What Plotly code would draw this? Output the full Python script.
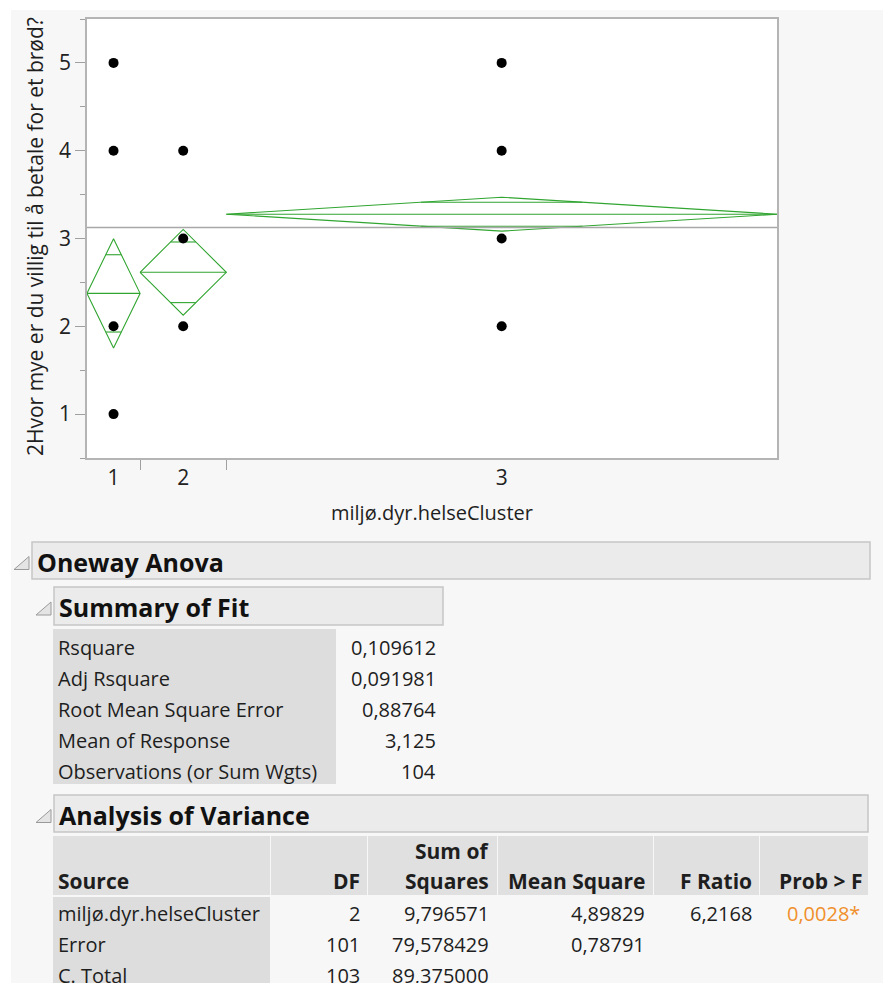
import math
import plotly.graph_objects as go

# ---- Oneway data: response by cluster ----
groups = ["1", "2", "3"]
group_n = [8, 13, 83]
group_means = [2.375, 2.615, 3.277]
group_values = [[1, 2, 4, 5], [2, 3, 4], [2, 3, 4, 5]]
grand_mean = 3.125
rmse = 0.88764
t_crit = 1.9837  # t(0.975, 101)

y_ticks = [1, 2, 3, 4, 5]
y_title = "2Hvor mye er du villig til å betale for et brød?"
x_title = "miljø.dyr.helseCluster"

# ---- Summary of Fit ----
fit_labels = ["Rsquare", "Adj Rsquare", "Root Mean Square Error",
              "Mean of Response", "Observations (or Sum Wgts)"]
fit_values = ["0,109612", "0,091981", "0,88764", "3,125", "104"]

# ---- Analysis of Variance ----
anova_source = ["miljø.dyr.helseCluster", "Error", "C. Total"]
anova_df = ["2", "101", "103"]
anova_ss = ["9,796571", "79,578429", "89,375000"]
anova_ms = ["4,89829", "0,78791", ""]
anova_f = ["6,2168", "", ""]
anova_p = ["0,0028*", "", ""]

W, H = 883, 983
PAGE_BG = "#f7f7f7"
GREEN = "rgb(48,165,48)"
FONT = "Open Sans"
TXT = "#1e1e1e"


def px(x):
    return x / W


def py(y):
    return 1 - y / H


fig = go.Figure()

# group extents on a count-proportional x scale
edges = [0]
for n in group_n:
    edges.append(edges[-1] + n)
centers = [(edges[i] + edges[i + 1]) / 2 for i in range(len(groups))]
total = edges[-1]

# means diamonds with overlap marks
for i in range(len(groups)):
    lo, hi, c = edges[i], edges[i + 1], centers[i]
    m = group_means[i]
    h = t_crit * rmse / math.sqrt(group_n[i])
    fig.add_trace(go.Scatter(
        x=[lo, c, hi, c, lo], y=[m, m + h, m, m - h, m],
        mode="lines", line=dict(color=GREEN, width=1.1),
        hoverinfo="skip", showlegend=False))
    fig.add_trace(go.Scatter(
        x=[lo, hi], y=[m, m], mode="lines",
        line=dict(color=GREEN, width=1.1), hoverinfo="skip", showlegend=False))
    half_w = (hi - lo) / 2 * (1 - 1 / math.sqrt(2))
    for s in (1, -1):
        yo = m + s * h / math.sqrt(2)
        fig.add_trace(go.Scatter(
            x=[c - half_w, c + half_w], y=[yo, yo], mode="lines",
            line=dict(color=GREEN, width=1.1), hoverinfo="skip", showlegend=False))

# grand mean line
fig.add_trace(go.Scatter(
    x=[0, total], y=[grand_mean, grand_mean], mode="lines",
    line=dict(color="#a8a8a8", width=1.5), hoverinfo="skip", showlegend=False))

# observations
for i in range(len(groups)):
    fig.add_trace(go.Scatter(
        x=[centers[i]] * len(group_values[i]), y=group_values[i],
        mode="markers", marker=dict(color="black", size=10),
        showlegend=False))

plot_l, plot_r, plot_t, plot_b = 87, 777, 19, 458

fig.update_layout(
    width=W, height=H,
    margin=dict(l=0, r=0, t=0, b=0),
    paper_bgcolor=PAGE_BG, plot_bgcolor="white",
    font=dict(family=FONT, color=TXT),
    xaxis=dict(domain=[px(plot_l), px(plot_r)], range=[0, total],
               tickmode="array", tickvals=centers, ticktext=groups,
               ticks="", showgrid=False, zeroline=False,
               showline=True, linecolor="#b4b4b4", linewidth=1.5, mirror=True,
               tickfont=dict(size=21, color="#222"),
               minor=dict(tickmode="array", tickvals=edges[1:-1], ticks="outside",
                          ticklen=10, tickcolor="#a0a0a0", tickwidth=1)),
    yaxis=dict(domain=[py(plot_b), py(plot_t)], range=[0.5, 5.5],
               tickmode="array", tickvals=y_ticks, ticks="outside", ticklen=10,
               tickcolor="#a0a0a0", showgrid=False, zeroline=False,
               showline=True, linecolor="#b4b4b4", linewidth=1.5, mirror=True,
               tickfont=dict(size=21, color="#222"),
               minor=dict(dtick=0.5, ticks="outside", ticklen=5, tickcolor="#a0a0a0")),
)

shapes = []
ann = []

# white margin strips of the report window
shapes.append(dict(type="rect", xref="paper", yref="paper", x0=0, x1=1,
                   y0=py(10), y1=1, fillcolor="white", line=dict(width=0), layer="below"))
shapes.append(dict(type="rect", xref="paper", yref="paper", x0=0, x1=px(11),
                   y0=0, y1=1, fillcolor="white", line=dict(width=0), layer="below"))

# axis titles
ann.append(dict(x=px(35), y=py(237), xref="paper", yref="paper", text=y_title,
                textangle=-90, showarrow=False, xanchor="center", yanchor="middle",
                font=dict(size=21, color=TXT)))
ann.append(dict(x=px(432), y=py(512), xref="paper", yref="paper", text=x_title,
                showarrow=False, xanchor="center", yanchor="middle",
                font=dict(size=20, color=TXT)))


def rect(x0, y0, x1, y1, fill, line=None, lw=0):
    shapes.append(dict(type="rect", xref="paper", yref="paper",
                       x0=px(x0), x1=px(x1), y0=py(y1), y1=py(y0),
                       fillcolor=fill, line=dict(color=line or fill, width=lw)))


def text(x, y, s, size=20, bold=False, anchor="left", color=TXT):
    ann.append(dict(x=px(x), y=py(y), xref="paper", yref="paper",
                    text=f"<b>{s}</b>" if bold else s, showarrow=False,
                    xanchor=anchor, yanchor="middle",
                    font=dict(size=size, color=color)))


def outline_header(x0, y0, x1, y1, title):
    rect(x0, y0, x1, y1, "#ebebeb", "#c6c6c6", 1.5)
    # disclosure triangle
    tx, ty = x0 - 18, (y0 + y1) / 2 + 9
    shapes.append(dict(type="path", xref="paper", yref="paper",
                       path=f"M {px(tx)} {py(ty)} L {px(tx + 15)} {py(ty - 13)} L {px(tx + 15)} {py(ty)} Z",
                       fillcolor="#e4e4e4", line=dict(color="#9a9a9a", width=1)))
    text(x0 + 3, (y0 + y1) / 2 + 1, title, size=25, bold=True, color="#111")


outline_header(32, 542, 870, 579, "Oneway Anova")
outline_header(54, 587, 443, 625, "Summary of Fit")

# Summary of Fit table
rect(53, 629, 336, 784, "#dddddd")
for k, (lab, val) in enumerate(zip(fit_labels, fit_values)):
    yc = 647 + k * 31
    text(56, yc, lab)
    text(438, yc, val, anchor="right")

outline_header(54, 795, 868, 832, "Analysis of Variance")

# Analysis of Variance table
cols = [(53, 270), (271, 367), (368, 497), (498, 653), (654, 759), (760, 868)]
for x0, x1 in cols:
    rect(x0, 836, x1, 895, "#e0e0e0")
rect(53, 897, 270, 990, "#dddddd")

HB = 21
text(56, 881, "Source", size=HB, bold=True)
text(362, 881, "DF", size=HB, bold=True, anchor="right")
text(491, 851, "Sum of", size=HB, bold=True, anchor="right")
text(491, 881, "Squares", size=HB, bold=True, anchor="right")
text(647, 881, "Mean Square", size=HB, bold=True, anchor="right")
text(754, 881, "F Ratio", size=HB, bold=True, anchor="right")
text(864, 881, "Prob &gt; F", size=HB, bold=True, anchor="right")

for k in range(len(anova_source)):
    yc = 913 + k * 31
    text(56, yc, anova_source[k])
    text(362, yc, anova_df[k], anchor="right")
    text(491, yc, anova_ss[k], anchor="right")
    text(647, yc, anova_ms[k], anchor="right")
    text(754, yc, anova_f[k], anchor="right")
    text(862, yc, anova_p[k], anchor="right", color="#f0902c")

fig.update_layout(shapes=shapes, annotations=ann)
fig.write_html("out.html")
